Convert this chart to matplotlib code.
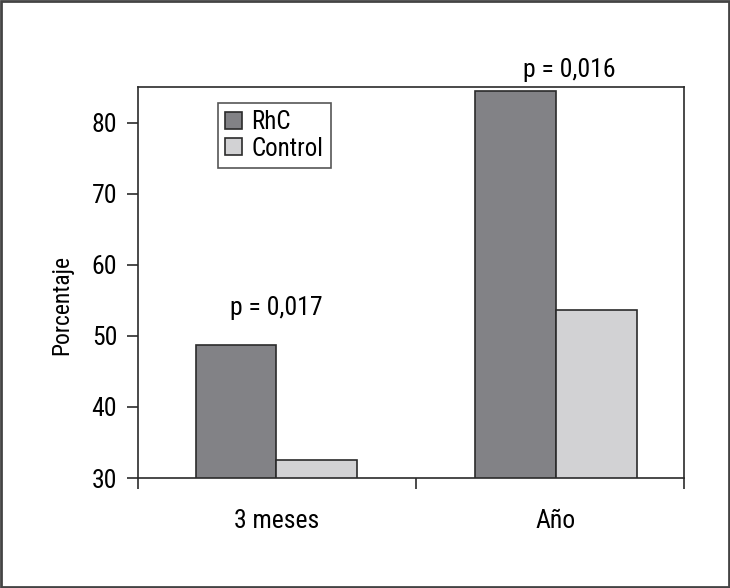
import matplotlib
matplotlib.use("Agg")
import matplotlib.pyplot as plt
from matplotlib.patches import Rectangle

# Chart data
categories = ["3 meses", "Año"]
rhc_values = [48.7, 84.5]
control_values = [32.5, 53.6]
p_labels = ["p = 0,017", "p = 0,016"]
p_label_y = [53.9, 87.4]
p_label_x = [0.0, 1.05]
y_ticks = [30, 40, 50, 60, 70, 80]

COLOR_RHC = "#828286"
COLOR_CONTROL = "#d2d2d4"
EDGE = "#2b2b2b"
BAR_W = 0.29
FS = 18.5

plt.rcParams["font.family"] = ["Roboto Condensed", "Liberation Sans Narrow", "Roboto", "DejaVu Sans"]
plt.rcParams["font.stretch"] = "condensed"

fig = plt.figure(figsize=(7.30, 5.88), dpi=100)
ax = fig.add_axes([138 / 730, 1 - 478 / 588, 546 / 730, 391 / 588])

x = list(range(len(categories)))
ax.bar([i - BAR_W / 2 for i in x], rhc_values, width=BAR_W, bottom=0,
       color=COLOR_RHC, edgecolor=EDGE, linewidth=1.2, label="RhC")
ax.bar([i + BAR_W / 2 for i in x], control_values, width=BAR_W, bottom=0,
       color=COLOR_CONTROL, edgecolor=EDGE, linewidth=1.2, label="Control")

ax.set_ylim(30, 85.05)
ax.set_xlim(-0.496, 1.46)

ax.set_yticks(y_ticks)
ax.tick_params(axis="y", direction="out", length=8, width=1.2, pad=7,
               labelsize=FS, color=EDGE)

# category labels centered, boundary ticks between groups
ax.set_xticks(x)
ax.set_xticklabels(categories)
ax.tick_params(axis="x", which="major", length=0, pad=22, labelsize=FS)
ax.set_xticks([-0.496, 0.5, 1.46], minor=True)
ax.tick_params(axis="x", which="minor", direction="out", length=8, width=1.2,
               color=EDGE)

for s in ax.spines.values():
    s.set_linewidth(1.2)
    s.set_color(EDGE)

ax.set_ylabel("Porcentaje", fontsize=17)
ax.yaxis.set_label_coords(-0.119, 0.442)

for px, py, txt in zip(p_label_x, p_label_y, p_labels):
    ax.text(px, py, txt, ha="center", va="center", fontsize=FS, clip_on=False)

leg = ax.legend(loc="upper left", bbox_to_anchor=(0.1465, 0.96),
                fontsize=18, frameon=True, fancybox=False, borderpad=0.3,
                handlelength=0.68, handleheight=0.68, handletextpad=0.35,
                labelspacing=0.1, borderaxespad=0)
leg.get_frame().set_edgecolor(EDGE)
leg.get_frame().set_linewidth(1.2)

# outer frame around the figure
fig.patches.append(Rectangle((0.001, 0.001), 0.997, 0.997, transform=fig.transFigure,
                             fill=False, edgecolor="#444444", linewidth=2))

fig.savefig("out.png", dpi=100)
